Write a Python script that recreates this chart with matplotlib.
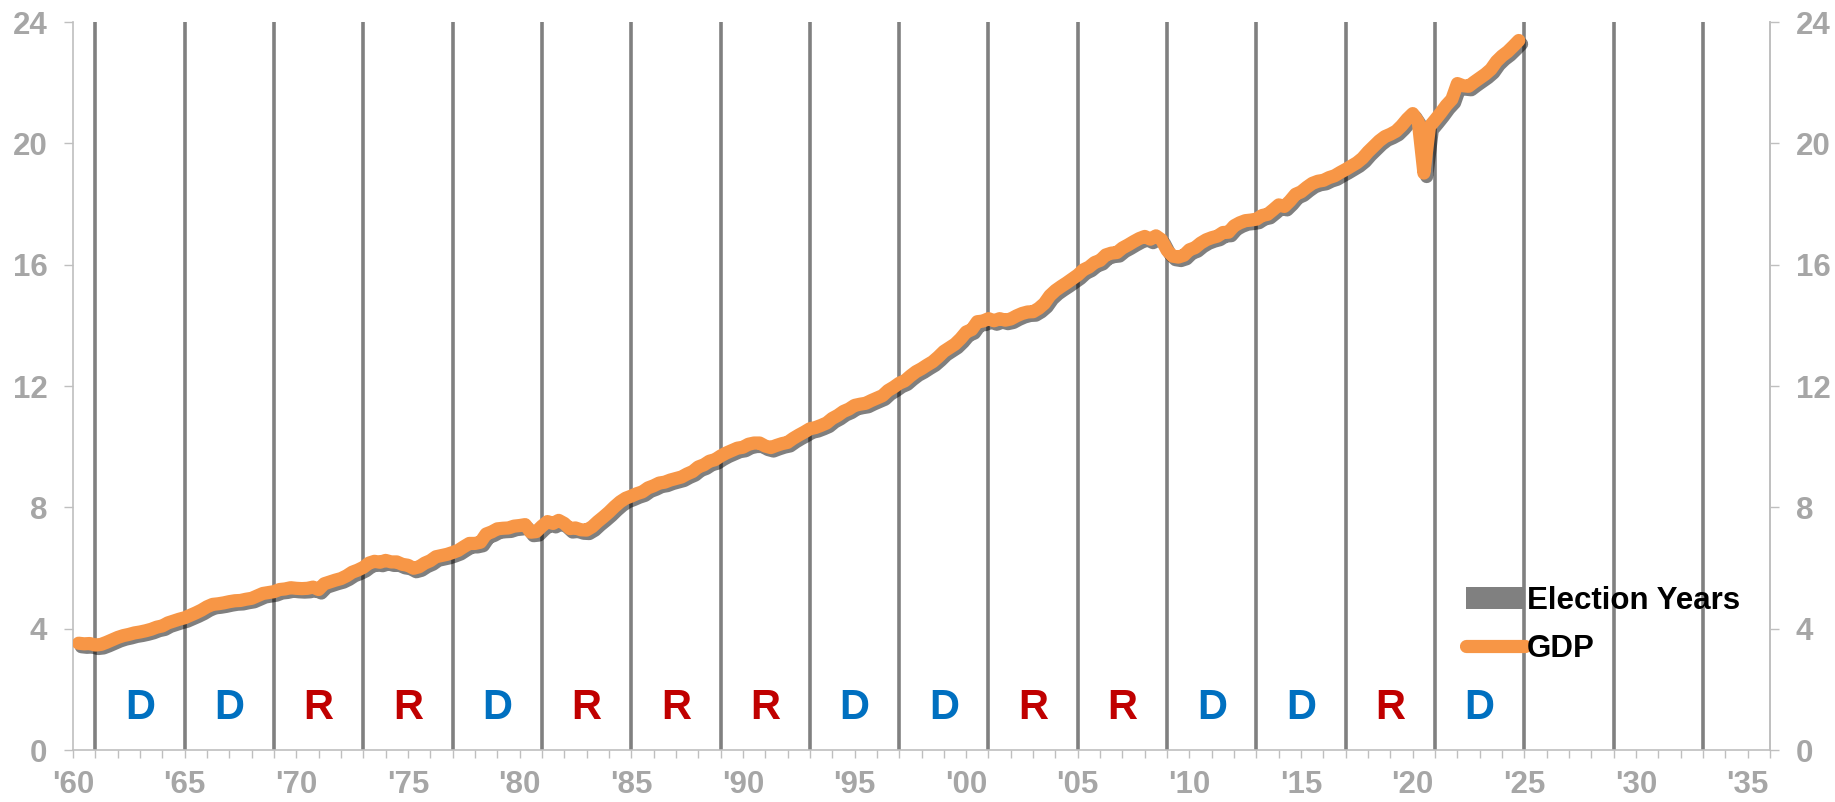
import matplotlib
matplotlib.use("Agg")
import matplotlib.pyplot as plt
import matplotlib.patheffects as pe
from matplotlib.patches import Patch
from matplotlib.lines import Line2D
import numpy as np

plt.rcParams["font.family"] = ["Liberation Sans", "DejaVu Sans"]

# real GDP, trillions of chained dollars, quarterly from 1960Q1 (one row per year)
gdp_q = [
    3.52, 3.50, 3.51, 3.46,  # 1960
    3.48, 3.55, 3.63, 3.71,
    3.77, 3.81, 3.86, 3.89,
    3.93, 3.98, 4.05, 4.09,
    4.19, 4.25, 4.31, 4.36,
    4.44, 4.52, 4.61, 4.72,  # 1965
    4.80, 4.82, 4.85, 4.89,
    4.92, 4.93, 4.97, 5.00,
    5.08, 5.16, 5.19, 5.22,
    5.29, 5.31, 5.35, 5.33,
    5.32, 5.33, 5.37, 5.29,  # 1970
    5.48, 5.54, 5.60, 5.65,
    5.74, 5.86, 5.93, 6.02,
    6.16, 6.22, 6.19, 6.25,
    6.20, 6.20, 6.12, 6.09,
    5.99, 6.04, 6.16, 6.24,  # 1975
    6.37, 6.41, 6.45, 6.51,
    6.58, 6.70, 6.81, 6.81,
    6.85, 7.12, 7.19, 7.29,
    7.31, 7.32, 7.38, 7.40,
    7.43, 7.18, 7.20, 7.38,  # 1980
    7.53, 7.47, 7.57, 7.47,
    7.30, 7.32, 7.26, 7.25,
    7.36, 7.53, 7.68, 7.84,
    8.02, 8.18, 8.30, 8.37,
    8.45, 8.51, 8.64, 8.71,  # 1985
    8.80, 8.83, 8.90, 8.95,
    9.00, 9.10, 9.18, 9.33,
    9.40, 9.52, 9.57, 9.69,
    9.79, 9.87, 9.95, 9.98,
    10.08, 10.12, 10.12, 10.02,  # 1990
    9.97, 10.04, 10.10, 10.14,
    10.27, 10.38, 10.48, 10.59,
    10.63, 10.70, 10.78, 10.93,
    11.03, 11.16, 11.24, 11.36,
    11.40, 11.43, 11.52, 11.60,  # 1995
    11.68, 11.85, 11.96, 12.09,
    12.17, 12.33, 12.47, 12.57,
    12.69, 12.80, 12.96, 13.14,
    13.26, 13.38, 13.56, 13.78,
    13.86, 14.12, 14.14, 14.22,  # 2000
    14.15, 14.22, 14.17, 14.21,
    14.31, 14.39, 14.44, 14.45,
    14.56, 14.72, 14.98, 15.15,
    15.28, 15.40, 15.53, 15.66,
    15.83, 15.92, 16.07, 16.14,  # 2005
    16.32, 16.38, 16.40, 16.55,
    16.65, 16.76, 16.86, 16.93,
    16.84, 16.95, 16.82, 16.47,
    16.28, 16.25, 16.31, 16.49,
    16.56, 16.71, 16.82, 16.89,  # 2010
    16.94, 17.06, 17.07, 17.28,
    17.38, 17.45, 17.47, 17.50,
    17.62, 17.66, 17.81, 17.97,
    17.92, 18.10, 18.32, 18.40,
    18.55, 18.68, 18.75, 18.78,  # 2015
    18.87, 18.93, 19.04, 19.14,
    19.25, 19.36, 19.51, 19.72,
    19.90, 20.08, 20.22, 20.30,
    20.40, 20.58, 20.80, 20.98,
    20.70, 19.02, 20.55, 20.77,  # 2020
    21.00, 21.25, 21.45, 21.97,
    21.90, 21.88, 22.02, 22.15,
    22.28, 22.44, 22.70, 22.88,
    23.02, 23.20, 23.39,
]
start_year = 1960

# start of each presidential term and the party that held it
term_starts = [1961, 1965, 1969, 1973, 1977, 1981, 1985, 1989, 1993,
               1997, 2001, 2005, 2009, 2013, 2017, 2021, 2025, 2029, 2033]
parties = ["D", "D", "R", "R", "D", "R", "R", "R", "D",
           "D", "R", "R", "D", "D", "R", "D"]
party_colors = {"D": "#0070C0", "R": "#C00000"}

x_min, x_max = 1960, 2036
y_ticks = [0, 4, 8, 12, 16, 20, 24]
x_major = list(range(1960, 2036, 5))

GRAY_TXT = "#A6A6A6"
SPINE = "#BFBFBF"
ORANGE = "#F79646"
VLINE = "#808080"
FS = 22.5

# quarterly points are stamped at the end of each quarter
t = start_year + (np.arange(len(gdp_q)) + 1) / 4.0

fig = plt.figure(figsize=(18.35, 8.02), dpi=100)
ax = fig.add_axes([73 / 1835, 1 - 750 / 802, (1770 - 73) / 1835, (750 - 22) / 802])

for yr in term_starts:
    ax.axvline(yr, color=VLINE, lw=2.6, zorder=1)

ax.plot(t, gdp_q, color=ORANGE, lw=9.5, solid_capstyle="round",
        solid_joinstyle="round", zorder=3,
        path_effects=[pe.SimpleLineShadow(offset=(2, -2.5), shadow_color="k", alpha=0.5),
                      pe.Normal()])

for a, b, p in zip(term_starts[:-1], term_starts[1:], parties):
    ax.text((a + b) / 2, 1.02, p, color=party_colors[p], fontsize=30,
            fontweight="bold", ha="center", va="baseline", zorder=4)

ax.set_xlim(x_min, x_max)
ax.set_ylim(0, 24)
ax.set_yticks(y_ticks)
ax.set_xticks(x_major)
ax.set_xticks(range(1960, 2037), minor=True)
ax.set_xticklabels([f"'{y % 100:02d}" for y in x_major])

ax.spines["top"].set_visible(False)
for s in ("left", "right", "bottom"):
    ax.spines[s].set_color(SPINE)
    ax.spines[s].set_linewidth(1.2)

ax.tick_params(axis="y", which="major", direction="out", length=6.5, width=1,
               color=SPINE, labelcolor=GRAY_TXT, labelsize=FS, pad=12)
ax.tick_params(axis="x", which="both", direction="out", length=5.5, width=1,
               color=SPINE, labelcolor=GRAY_TXT, labelsize=FS, pad=9)
for lab in ax.get_xticklabels() + ax.get_yticklabels():
    lab.set_fontweight("bold")

ax2 = ax.twinx()
ax2.set_ylim(0, 24)
ax2.set_yticks(y_ticks)
for s in ("top", "left", "bottom"):
    ax2.spines[s].set_visible(False)
ax2.spines["right"].set_color(SPINE)
ax2.spines["right"].set_linewidth(1.2)
ax2.tick_params(axis="y", direction="out", length=6.5, width=1, color=SPINE,
                labelcolor=GRAY_TXT, labelsize=FS, pad=12)
for lab in ax2.get_yticklabels():
    lab.set_fontweight("bold")

handles = [Patch(facecolor=VLINE, edgecolor="none", label="Election Years"),
           Line2D([], [], color=ORANGE, lw=9.5, solid_capstyle="round", label="GDP")]
leg = fig.legend(handles=handles, loc="upper left",
                 bbox_to_anchor=(1450 / 1835, 1 - 570 / 802),
                 frameon=False, borderpad=0, handlelength=1.9, handletextpad=0.05,
                 labelspacing=0.6, prop={"size": FS, "weight": "bold"})

fig.savefig("out.png", dpi=100)
